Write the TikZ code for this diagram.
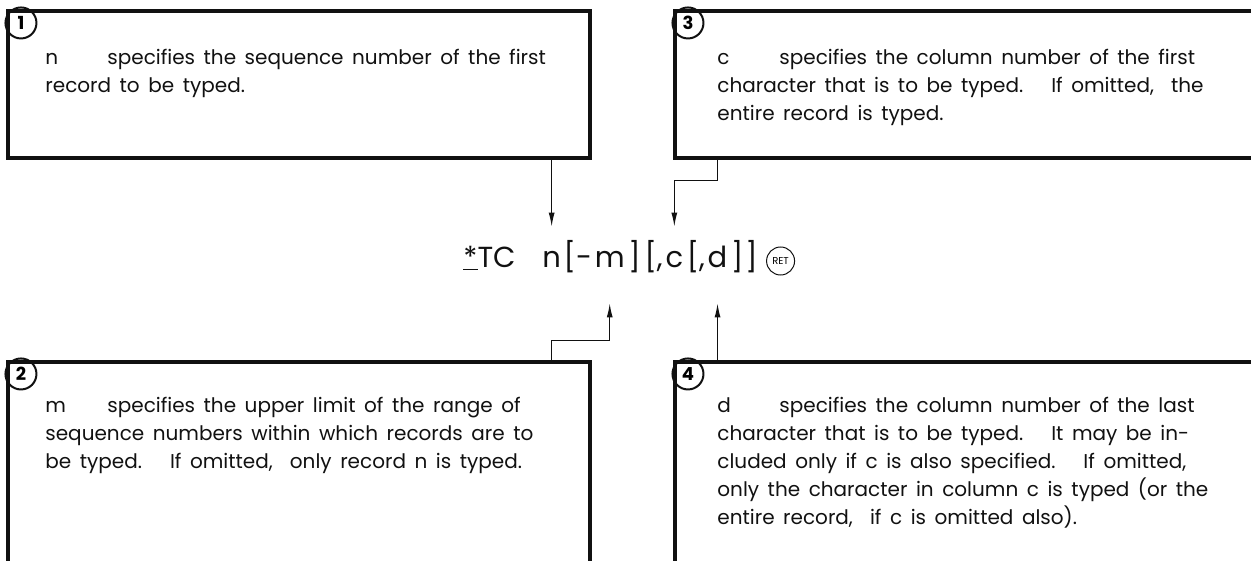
\documentclass[tikz,border=0pt]{standalone}
\usepackage{fontspec}
\setmainfont{Poppins}[WordSpace=1.6]
\usepackage{tikz}
\usetikzlibrary{arrows.meta,positioning,fit}
\definecolor{ink}{HTML}{111111}
\newcommand{\argtag}[1]{\makebox[31pt][l]{#1}}
\newcommand{\sentgap}{\hspace{14pt}}

\begin{document}
\begin{tikzpicture}[
  x=0.5pt, y=-0.5pt,
  panel/.style={draw=ink, line width=1.7pt, inner sep=0pt},
  tag/.style={draw=ink, circle, line width=1pt, minimum size=15.5pt, inner sep=0pt, font=\fontsize{9}{9}\selectfont\bfseries},
  desc/.style={anchor=base west, align=left, inner sep=0pt, font=\fontsize{10}{14}\selectfont, text=ink},
  cmd/.style={inner sep=0pt, text height=20pt, text depth=18pt, font=\fontsize{14.5}{14.5}\selectfont, text=ink},
  retkey/.style={draw=ink, circle, line width=0.5pt, minimum size=14pt, inner sep=0pt, font=\fontsize{5}{5}\selectfont},
  arrow/.style={-{Latex[length=7pt, width=3pt]}, line width=0.6pt, draw=ink}
]
\useasboundingbox (0,0) rectangle (1251,561);
\clip (0,0) rectangle (1251,561);

\node[panel, fit={(8,11) (590,158)}] (nbox) {};
\node[panel, fit={(675,11) (1265,158)}] (cbox) {};
\node[panel, fit={(8,362) (590,575)}] (mbox) {};
\node[panel, fit={(675,362) (1265,575)}] (dbox) {};

\node[tag, below right=1pt and 1.5pt of nbox.north west] (ntag) {1};
\node[tag, below right=1pt and 1.5pt of cbox.north west] (ctag) {3};
\node[tag, below right=1pt and 1.5pt of mbox.north west] (mtag) {2};
\node[tag, below right=1pt and 1.5pt of dbox.north west] (dtag) {4};

\node[desc] (ntext) at (45,93) {\argtag{n}specifies the sequence number of the first\\record to be typed.};
\node[desc] (ctext) at (717,121) {\argtag{c}specifies the column number of the first\\character that is to be typed.\sentgap If omitted,\ \ the\\entire record is typed.};
\node[desc] (mtext) at (45,468) {\argtag{m}specifies the upper limit of the range of\\sequence numbers within which records are to\\be typed.\sentgap If omitted,\ \ only record n is typed.};
\node[desc] (dtext) at (717,524) {\argtag{d}specifies the column number of the last\\character that is to be typed.\sentgap It may be in-\\cluded only if c is also specified.\sentgap If omitted,\\only the character in column c is typed (or the\\entire record,\ \ if c is omitted also).};

\node[cmd, anchor=base west] (tcname) at (463,267) {\underline{*}TC};
\node[cmd, right=13pt of tcname] (argn) {n};
\node[cmd, right=1pt of argn] (optm) {[-};
\node[cmd, right=1pt of optm] (argm) {m};
\node[cmd, right=1.5pt of argm] (optc) {]\kern2pt[,};
\node[cmd, right=1pt of optc] (argc) {c};
\node[cmd, right=1.5pt of argc] (optd) {[,};
\node[cmd, right=1pt of optd] (argd) {d};
\node[cmd, right=1.5pt of argd] (optend) {]\kern1pt]};
\node[retkey, right=4pt of optend, yshift=2pt] (ret) {RET};

\draw[arrow] (nbox.south -| argn) -- (argn.north);
\draw[arrow] (cbox.south -| argd) -- ++(0,21) -| (argc.north);
\draw[arrow] (mbox.north -| argn) -- ++(0,-20) -| (argm.south);
\draw[arrow] (dbox.north -| argd) -- (argd.south);
\end{tikzpicture}
\end{document}
